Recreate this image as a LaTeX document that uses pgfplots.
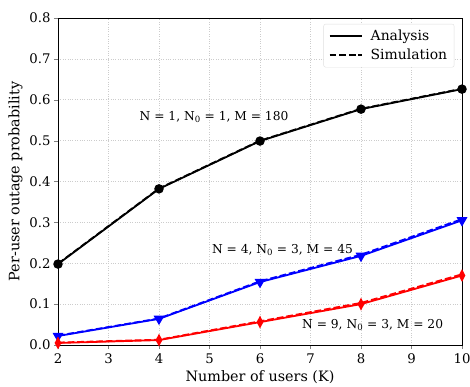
\documentclass[border=0pt]{standalone}
\usepackage{fontspec}
\setmainfont{DejaVu Serif}
\usepackage{pgfplots}
\pgfplotsset{compat=1.18}

\tikzset{mpldash/.style={dash pattern=on 6.7bp off 2.9bp}}

\begin{document}
\begin{tikzpicture}[font=\fontsize{13.3}{16}\selectfont]
\begin{axis}[
  scale only axis,
  width=404bp, height=327bp,
  xmin=2, xmax=10, ymin=0, ymax=0.8,
  xtick={2,3,...,10},
  ytick={0,0.1,...,0.8},
  /pgf/number format/assume math mode=true,
  yticklabel style={/pgf/number format/.cd, fixed, fixed zerofill, precision=1},
  tick align=outside,
  tick pos=left,
  major tick length=4bp,
  xticklabel style={yshift=-1bp},
  axis line style={line width=0.9bp},
  grid=major,
  grid style={dotted, gray!40, line width=0.6bp},
  xlabel={Number of users (K)},
  ylabel={Per-user outage probability},
  xlabel style={font=\fontsize{14.4}{17}\selectfont, yshift=0bp},
  ylabel style={font=\fontsize{14.4}{17}\selectfont, yshift=0bp},
  legend style={at={(0.981,0.982)}, anchor=north east, draw=gray!25,
    rounded corners=2bp, font=\fontsize{14}{17}\selectfont,
    row sep=3bp, inner xsep=5bp, inner ysep=4bp,
    /tikz/every odd column/.style={column sep=6bp},
    /tikz/every even column/.style={column sep=0bp}},
  legend cell align=left,
  legend image code/.code={\draw[#1, line width=2bp] (0bp,0bp) -- (32bp,0bp);},
]
\addlegendimage{black, solid}
\addlegendentry{Analysis}
\addlegendimage{black, mpldash}
\addlegendentry{Simulation}

% N = 1, N0 = 1, M = 180
\addplot[black, line width=1.8bp, mark=*, mark size=3.8bp, forget plot]
  coordinates {(2,0.198) (4,0.382) (6,0.499) (8,0.577) (10,0.626)};
\addplot[black, mpldash, line width=1.8bp, forget plot]
  coordinates {(2,0.199) (4,0.383) (6,0.500) (8,0.578) (10,0.627)};

% N = 4, N0 = 3, M = 45
\addplot[blue, line width=1.8bp, mark=triangle*, mark size=4.5bp,
  mark options={rotate=180}, forget plot]
  coordinates {(2,0.022) (4,0.064) (6,0.154) (8,0.218) (10,0.305)};
\addplot[blue, mpldash, line width=1.8bp, forget plot]
  coordinates {(2,0.023) (4,0.065) (6,0.156) (8,0.221) (10,0.308)};

% N = 9, N0 = 3, M = 20
\addplot[red, line width=1.8bp, mark=diamond*, mark size=4.5bp,
  mark options={xscale=0.7}, forget plot]
  coordinates {(2,0.005) (4,0.012) (6,0.056) (8,0.100) (10,0.170)};
\addplot[red, mpldash, line width=1.8bp, forget plot]
  coordinates {(2,0.006) (4,0.013) (6,0.058) (8,0.103) (10,0.173)};

\begin{scope}[every node/.style={font=\fontsize{12.3}{15}\selectfont}]
\node at (axis cs:5.09,0.558) {N = 1, N\textsubscript{0} = 1, M = 180};
\node at (axis cs:6.445,0.232) {N = 4, N\textsubscript{0} = 3, M = 45};
\node at (axis cs:8.23,0.049) {N = 9, N\textsubscript{0} = 3, M = 20};
\end{scope}
\end{axis}
\pgfresetboundingbox
\path (current axis.south west) ++(-58bp,-41bp) rectangle ([shift={(8bp,18bp)}]current axis.north east);
\end{tikzpicture}
\end{document}
